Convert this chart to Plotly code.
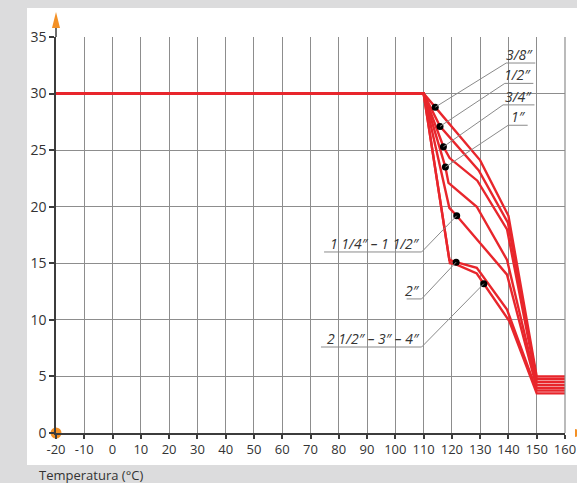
import plotly.graph_objects as go

# ---- data ----
sizes = ["3/8″", "1/2″", "3/4″", "1″", "1 1/4″ – 1 1/2″", "2″", "2 1/2″ – 3″ – 4″"]

temp_38 = [-20, 110, 114.1, 130, 140, 150, 160]
pres_38 = [30, 30, 28.8, 24.1, 19.2, 5.0, 5.0]

temp_12 = [-20, 110, 115.8, 129.5, 139.8, 150, 160]
pres_12 = [30, 30, 27.1, 23.2, 18.6, 4.75, 4.75]

temp_34 = [-20, 110, 117.0, 119.2, 129.0, 139.5, 150, 160]
pres_34 = [30, 30, 25.3, 24.3, 22.3, 18.0, 4.5, 4.5]

temp_1 = [-20, 110, 117.7, 118.8, 128.8, 139.5, 150, 160]
pres_1 = [30, 30, 23.5, 22.1, 20.0, 15.3, 4.25, 4.25]

temp_114 = [-20, 110, 119.1, 121.7, 139.5, 150, 160]
pres_114 = [30, 30, 19.9, 19.2, 14.0, 4.0, 4.0]

temp_2 = [-20, 110, 119.1, 121.5, 128.8, 139.5, 150, 160]
pres_2 = [30, 30, 15.3, 15.1, 14.6, 10.9, 3.75, 3.75]

temp_212 = [-20, 110, 119.3, 121.5, 128.8, 131.3, 140.3, 150, 160]
pres_212 = [30, 30, 15.0, 14.9, 14.1, 13.2, 9.9, 3.5, 3.5]

series_temp = [temp_38, temp_12, temp_34, temp_1, temp_114, temp_2, temp_212]
series_pres = [pres_38, pres_12, pres_34, pres_1, pres_114, pres_2, pres_212]

# label dots on each curve
dot_temp = [114.1, 115.8, 117.0, 117.7, 121.7, 121.5, 131.3]
dot_pres = [28.8, 27.1, 25.3, 23.5, 19.2, 15.1, 13.2]

# label placement (underline start/end, underline level, side the leader joins)
lab_x0 = [139.2, 138.7, 138.1, 139.9, 74.8, 104.0, 73.7]
lab_x1 = [149.5, 148.8, 149.2, 146.8, 109.3, 109.3, 109.3]
lab_y = [32.7, 30.9, 29.0, 27.2, 16.0, 11.85, 7.6]
lab_side = ["left", "left", "left", "left", "right", "right", "right"]

x_ticks = list(range(-20, 161, 10))
y_ticks = list(range(0, 36, 5))

RED = "#e8262c"
ORANGE = "#f39025"
GRID = "#8d8d8d"
AXIS = "#3c3c3c"
TXT = "#333333"
LEAD = "#8a8a8a"

fig = go.Figure()

for t, p, name in zip(series_temp, series_pres, sizes):
    fig.add_trace(go.Scatter(x=t, y=p, mode="lines", name=name,
                             line=dict(color=RED, width=2.4), showlegend=False,
                             hoverinfo="skip"))

# leaders and underlines
shapes = []
annotations = []
for i, name in enumerate(sizes):
    jx = lab_x0[i] if lab_side[i] == "left" else lab_x1[i]
    shapes.append(dict(type="line", xref="x", yref="y", x0=dot_temp[i], y0=dot_pres[i],
                       x1=jx, y1=lab_y[i], line=dict(color=LEAD, width=1)))
    shapes.append(dict(type="line", xref="x", yref="y", x0=lab_x0[i], y0=lab_y[i],
                       x1=lab_x1[i], y1=lab_y[i], line=dict(color=LEAD, width=1)))
    annotations.append(dict(x=lab_x1[i], y=lab_y[i], xref="x", yref="y",
                            text="<i>" + name + "</i>", showarrow=False,
                            xanchor="right", yanchor="bottom", yshift=-3,
                            font=dict(size=14, color=TXT, family="Open Sans")))

fig.add_trace(go.Scatter(x=dot_temp, y=dot_pres, mode="markers",
                         marker=dict(color="black", size=7), showlegend=False,
                         hoverinfo="skip"))

# origin dot
fig.add_trace(go.Scatter(x=[x_ticks[0]], y=[y_ticks[0]], mode="markers",
                         marker=dict(color=ORANGE, size=11), cliponaxis=False,
                         showlegend=False, hoverinfo="skip"))

# plot area: px 56..565 horizontally, 37..433 vertically
L, R, T, B = 56, 565, 37, 433
PW, PH = float(R - L), float(B - T)
shapes.insert(0, dict(type="rect", xref="paper", yref="paper", layer="below",
                      x0=(27 - L) / PW, x1=(590 - L) / PW,
                      y0=(B - 465) / PH, y1=(B - 8) / PH,
                      fillcolor="white", line=dict(width=0)))
# right border grid line at the range end
shapes.append(dict(type="line", xref="paper", yref="paper", x0=1, x1=1, y0=0, y1=1,
                   line=dict(color=GRID, width=1.2)))
# y axis extension + arrow
shapes.append(dict(type="line", xref="paper", yref="paper", x0=0, x1=0,
                   y0=1, y1=(B - 27) / PH, line=dict(color=AXIS, width=1.5)))
shapes.append(dict(type="path", xref="paper", yref="paper",
                   path="M {a},{b} L {c},{b} L 0,{d} Z".format(
                       a=-4 / PW, c=4 / PW, b=(B - 28) / PH, d=(B - 12) / PH),
                   fillcolor=ORANGE, line=dict(width=0)))
# x axis arrow (cut at the right border)
shapes.append(dict(type="path", xref="paper", yref="paper",
                   path="M {a},{b} L {a},{c} L {d},0 Z".format(
                       a=(575 - L) / PW, b=4 / PH, c=-4 / PH, d=(589 - L) / PW),
                   fillcolor=ORANGE, line=dict(width=0)))

annotations.append(dict(x=(37 - L) / PW, y=(B - 475) / PH, xref="paper", yref="paper",
                        text="Temperatura (°C)", showarrow=False, xanchor="left",
                        yanchor="middle", font=dict(size=13, color=TXT, family="Open Sans")))

fig.update_layout(
    width=577, height=483,
    margin=dict(l=L, r=577 - R, t=T, b=483 - B, autoexpand=False),
    paper_bgcolor="#dcdcdd",
    plot_bgcolor="white",
    shapes=shapes,
    annotations=annotations,
    font=dict(family="Open Sans", color=TXT, size=14),
)
fig.update_xaxes(range=[-20, 160], tickvals=x_ticks, ticktext=[str(v) for v in x_ticks],
                 showgrid=True, gridcolor=GRID, gridwidth=1.2, zeroline=False,
                 showline=True, linecolor=AXIS, linewidth=1.5,
                 ticks="outside", ticklen=4, tickcolor=AXIS, tickwidth=1.5,
                 ticklabeloverflow="allow", automargin=False,
                 tickfont=dict(size=13, color=TXT, family="Open Sans"))
fig.update_yaxes(range=[0, 35], tickvals=y_ticks, ticktext=[str(v) for v in y_ticks],
                 showgrid=True, gridcolor=GRID, gridwidth=1.2, zeroline=False,
                 showline=True, linecolor=AXIS, linewidth=1.5, automargin=False,
                 ticks="outside", ticklen=5, tickcolor=AXIS, tickwidth=1.5,
                 tickfont=dict(size=14, color=TXT, family="Open Sans"))

fig.write_html("out.html", config={"displayModeBar": False},
               post_script="document.body.style.margin='0';"
                           "document.body.style.overflow='hidden';"
                           "document.body.style.background='#dcdcdd';")
